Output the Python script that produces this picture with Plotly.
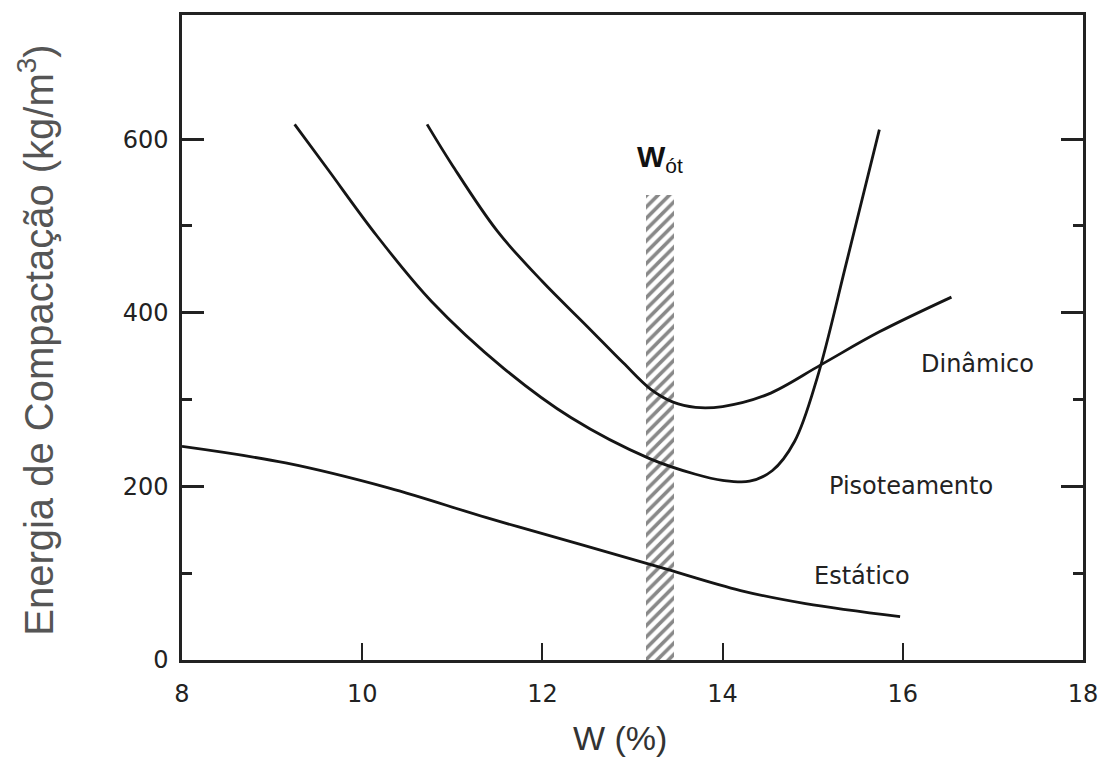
import plotly.graph_objects as go

# ---- data ----
pis_x = [9.25, 9.62, 10.16, 10.77, 11.57, 12.32, 13.19, 13.7, 14.0, 14.3, 14.55, 14.8, 15.05, 15.38, 15.74]
pis_y = [617, 565, 489, 413, 336, 279, 232, 214, 207, 206, 218, 252, 325, 460, 611]

din_x = [10.72, 11.0, 11.5, 12.0, 12.5, 12.9, 13.2, 13.45, 13.7, 14.0, 14.5, 15.09, 15.74, 16.54]
din_y = [617, 570, 494, 436, 384, 342, 312, 297, 291, 292, 306, 340, 378, 418]

est_x = [8.0, 9.15, 10.3, 11.38, 12.46, 13.3, 14.2, 14.92, 15.97]
est_y = [246, 227, 198, 164, 132, 107, 80, 65, 50]

band_x0, band_x1, band_top = 13.15, 13.46, 536

x_ticks = [8, 10, 12, 14, 16, 18]
y_ticks = [0, 200, 400, 600]
y_minor = [100, 300, 500]

labels = [("Dinâmico", 16.83, 341), ("Pisoteamento", 16.09, 200), ("Estático", 15.55, 97)]

LINE = "#151515"
fig = go.Figure()

# hatched optimum-moisture band
fig.add_trace(go.Bar(
    x=[(band_x0 + band_x1) / 2], y=[band_top], base=0, width=band_x1 - band_x0,
    marker=dict(color="white", line=dict(width=0),
                pattern=dict(shape="/", fgcolor="#111", bgcolor="white", size=8, solidity=0.45)),
    hoverinfo="skip"))

for xs, ys in [(pis_x, pis_y), (din_x, din_y), (est_x, est_y)]:
    fig.add_trace(go.Scatter(x=xs, y=ys, mode="lines",
                             line=dict(color=LINE, width=2.8, shape="spline", smoothing=1.0)))

for txt, lx, ly in labels:
    fig.add_annotation(x=lx, y=ly, text=txt, showarrow=False,
                       font=dict(family="DejaVu Sans", size=24, color="#222"))

fig.add_annotation(x=13.3, y=578, text="<b>W</b><sub>ót</sub>", showarrow=False,
                   font=dict(family="Liberation Sans", size=30, color="#111"))

# page body has an 8px margin, so the figure is shifted by 8px; sizes compensate
fig.add_annotation(xref="paper", yref="paper", x=0.486, y=-0.1204, text="W (%)",
                   showarrow=False, xanchor="center", yanchor="middle",
                   font=dict(family="Liberation Sans", size=34, color="#333"))
fig.add_annotation(xref="paper", yref="paper", x=-0.162, y=0.495,
                   text="Energia de Compactação (kg/m<sup>3</sup>)", textangle=-90,
                   showarrow=False, xanchor="center", yanchor="middle",
                   font=dict(family="Liberation Sans", size=40, color="#555"))

fig.update_layout(
    width=1102, height=750,
    margin=dict(l=174, r=27, t=4, b=98),
    plot_bgcolor="white", paper_bgcolor="white",
    showlegend=False, bargap=0,
    xaxis=dict(range=[8, 18], tickvals=x_ticks, ticks="inside", ticklen=17, tickwidth=2,
               tickcolor="#222", showline=True, linecolor="#222", linewidth=2.5, mirror=True,
               showgrid=False, zeroline=False, ticklabelstandoff=10,
               tickfont=dict(family="DejaVu Sans", size=24, color="#222")),
    yaxis=dict(range=[0, 743], tickvals=y_ticks, ticks="inside", ticklen=22, tickwidth=2.5,
               tickcolor="#222", showline=True, linecolor="#222", linewidth=2.5, mirror="ticks",
               showgrid=False, zeroline=False, ticklabelstandoff=6,
               minor=dict(tickvals=y_minor, ticks="inside", ticklen=10, tickwidth=2.5,
                          tickcolor="#222", showgrid=False),
               tickfont=dict(family="DejaVu Sans", size=24, color="#222")),
)

fig.write_html("out.html")
